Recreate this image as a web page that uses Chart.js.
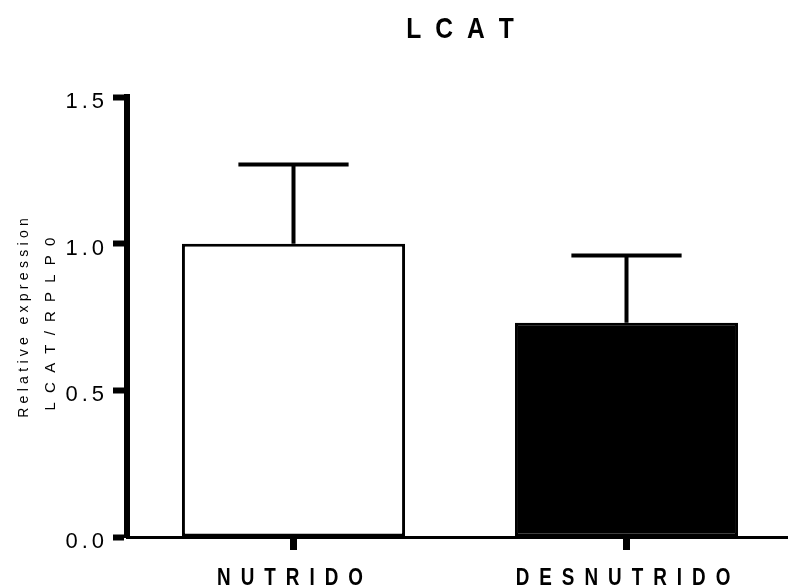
<!DOCTYPE html>
<html>
<head>
<meta charset="utf-8">
<title>LCAT</title>
<script src="https://cdn.jsdelivr.net/npm/chart.js@4/dist/chart.umd.min.js"></script>
<style>
  html, body { margin: 0; padding: 0; background: #ffffff; overflow: hidden; }
  #wrap { width: 788px; height: 588px; overflow: hidden; }
  canvas { display: block; }
</style>
</head>
<body>
<div id="wrap"><canvas id="chart" width="793" height="588" style="width:793px;height:588px"></canvas></div>
<script>
// Data
const chartTitle = 'LCAT';
const categories = ['NUTRIDO', 'DESNUTRIDO'];
const meanValues = [1.0, 0.73];
const sdValues = [0.27, 0.23];
const barFills = ['#ffffff', '#000000'];
const yTickValues = [0, 0.5, 1.0, 1.5];
const yTitleLines = ['Relative expression', 'LCAT/RPLP0'];

const FAMILY = '"Liberation Sans", Arial, Helvetica, sans-serif';

// Draw text char by char with extra tracking and optional horizontal condensing.
function drawSpaced(ctx, text, x, y, font, hscale, spacing, align) {
  ctx.save();
  ctx.font = font;
  ctx.textAlign = 'left';
  ctx.textBaseline = 'alphabetic';
  ctx.fillStyle = '#000000';
  const widths = Array.from(text).map(ch => ctx.measureText(ch).width * hscale);
  const total = widths.reduce((a, b) => a + b, 0) + spacing * (widths.length - 1);
  let start = x;
  if (align === 'center') start = x - total / 2;
  else if (align === 'right') start = x - total;
  let cx = start;
  Array.from(text).forEach((ch, i) => {
    ctx.save();
    ctx.translate(cx, y);
    ctx.scale(hscale, 1);
    ctx.fillText(ch, 0, 0);
    ctx.restore();
    cx += widths[i] + spacing;
  });
  ctx.restore();
}

// Error bars (mean + SD, upper only) and all text labels
const decorations = {
  id: 'decorations',
  afterDatasetsDraw(chart) {
    const ctx = chart.ctx;
    const y = chart.scales.y;
    const meta = chart.getDatasetMeta(0);
    ctx.save();
    ctx.strokeStyle = '#000000';
    ctx.lineWidth = 4;
    ctx.lineCap = 'butt';
    meta.data.forEach((bar, i) => {
      const base = y.getPixelForValue(meanValues[i]);
      const top = y.getPixelForValue(meanValues[i] + sdValues[i]);
      const half = bar.width * 0.247;
      ctx.beginPath();
      ctx.moveTo(bar.x, base);
      ctx.lineTo(bar.x, top);
      ctx.moveTo(bar.x - half, top);
      ctx.lineTo(bar.x + half, top);
      ctx.stroke();
    });
    ctx.restore();
  },
  afterDraw(chart) {
    const ctx = chart.ctx;
    const area = chart.chartArea;
    const x = chart.scales.x;
    const y = chart.scales.y;

    // Title, centred over the plot area
    drawSpaced(ctx, chartTitle, (area.left + area.right) / 2, 38,
      'bold 30px ' + FAMILY, 0.82, 14, 'center');

    // Category labels
    categories.forEach((label, i) => {
      const px = x.getPixelForTick(i);
      drawSpaced(ctx, label, px - 3.5, 585, 'bold 23px ' + FAMILY, 0.82, 10, 'center');
    });

    // Value axis labels
    y.ticks.forEach((t, i) => {
      const py = y.getPixelForTick(i);
      drawSpaced(ctx, t.value.toFixed(1), 104, py + 11, '22px ' + FAMILY, 1, 4, 'right');
    });

    // Rotated axis title (two lines)
    ctx.save();
    ctx.translate(28, 318);
    ctx.rotate(-Math.PI / 2);
    drawSpaced(ctx, yTitleLines[0], 0, 0, '14px ' + FAMILY, 1, 4.3, 'center');
    ctx.restore();
    ctx.save();
    ctx.translate(55, 324);
    ctx.rotate(-Math.PI / 2);
    drawSpaced(ctx, yTitleLines[1], 0, 0, '15px ' + FAMILY, 1, 9.2, 'center');
    ctx.restore();
  }
};

new Chart(document.getElementById('chart'), {
  type: 'bar',
  data: {
    labels: categories,
    datasets: [{
      data: meanValues,
      backgroundColor: barFills,
      borderColor: '#000000',
      borderWidth: 3,
      borderSkipped: false,
      categoryPercentage: 1.0,
      barPercentage: 0.67
    }]
  },
  options: {
    responsive: false,
    animation: false,
    devicePixelRatio: 1,
    layout: { padding: { top: 97, left: 0, right: 0, bottom: 0 } },
    plugins: {
      legend: { display: false },
      title: { display: false },
      tooltip: { enabled: false }
    },
    scales: {
      x: {
        type: 'category',
        offset: true,
        grid: {
          display: true,
          offset: false,
          drawOnChartArea: false,
          drawTicks: true,
          tickLength: 13,
          tickWidth: 7,
          tickColor: '#000000'
        },
        border: { display: true, color: '#000000', width: 3 },
        ticks: { display: false },
        afterFit(scale) { scale.height = 51; }
      },
      y: {
        min: 0,
        max: 1.5,
        afterBuildTicks(scale) { scale.ticks = yTickValues.map(v => ({ value: v })); },
        grid: {
          display: true,
          drawOnChartArea: false,
          drawTicks: true,
          tickLength: 14,
          tickWidth: 6,
          tickColor: '#000000'
        },
        border: { display: true, color: '#000000', width: 6 },
        ticks: { display: false },
        afterFit(scale) { scale.width = 127; }
      }
    }
  },
  plugins: [decorations]
});
</script>
</body>
</html>
